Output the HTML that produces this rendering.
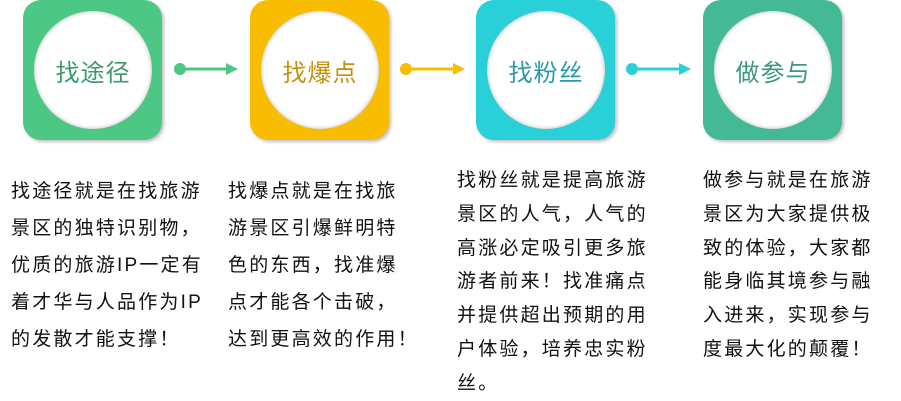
<!DOCTYPE html>
<html><head><meta charset="utf-8"><style>
body{margin:0;width:901px;height:401px;background:#fff;position:relative;overflow:hidden;font-family:"Liberation Sans","Noto Sans CJK SC",sans-serif}
.box{position:absolute;top:0;width:139px;height:140px;border-radius:18px;box-shadow:2px 2px 3px rgba(0,0,0,.25)}
.circ{position:absolute;left:11px;top:11px;width:118px;height:118px;border-radius:50%;background:#fff;box-shadow:inset 0 0 4px rgba(0,0,0,.3);display:flex;align-items:center;justify-content:center;font-size:24px;letter-spacing:1px}
.txt{position:absolute;font-size:19px;letter-spacing:2.2px;color:#111;white-space:nowrap}
svg{position:absolute;left:0;top:0}
</style></head><body>
<div class="box" style="left:23px;background:#4cc784"><div class="circ" style="color:#3a9a6a">找途径</div></div>
<div class="box" style="left:250px;background:#f8bc00"><div class="circ" style="color:#c8900a">找爆点</div></div>
<div class="box" style="left:476px;background:#2ad0d8"><div class="circ" style="color:#2a9aa8">找粉丝</div></div>
<div class="box" style="left:703px;background:#43b996"><div class="circ" style="color:#3a9a80">做参与</div></div>
<svg width="901" height="401">
<g stroke-width="3">
<circle cx="180" cy="69" r="6" fill="#4cc784"/><line x1="180" y1="69" x2="228" y2="69" stroke="#4cc784"/><polygon points="226,63 238,69 226,75" fill="#4cc784"/>
<circle cx="406" cy="69" r="6" fill="#f8bc00"/><line x1="406" y1="69" x2="455" y2="69" stroke="#f8bc00"/><polygon points="453,63 465,69 453,75" fill="#f8bc00"/>
<circle cx="632" cy="69" r="6" fill="#2ad0d8"/><line x1="632" y1="69" x2="681" y2="69" stroke="#2ad0d8"/><polygon points="679,63 691,69 679,75" fill="#2ad0d8"/>
</g></svg>
<div class="txt" style="left:11px;top:173px;line-height:37px">找途径就是在找旅游<br>景区的独特识别物，<br>优质的旅游IP一定有<br>着才华与人品作为IP<br>的发散才能支撑！</div>
<div class="txt" style="left:228px;top:173px;line-height:37px">找爆点就是在找旅<br>游景区引爆鲜明特<br>色的东西，找准爆<br>点才能各个击破，<br>达到更高效的作用！</div>
<div class="txt" style="left:457px;top:164px;line-height:33.8px">找粉丝就是提高旅游<br>景区的人气，人气的<br>高涨必定吸引更多旅<br>游者前来！找准痛点<br>并提供超出预期的用<br>户体验，培养忠实粉<br>丝。</div>
<div class="txt" style="left:703px;top:164px;line-height:33.8px">做参与就是在旅游<br>景区为大家提供极<br>致的体验，大家都<br>能身临其境参与融<br>入进来，实现参与<br>度最大化的颠覆！</div>
</body></html>
